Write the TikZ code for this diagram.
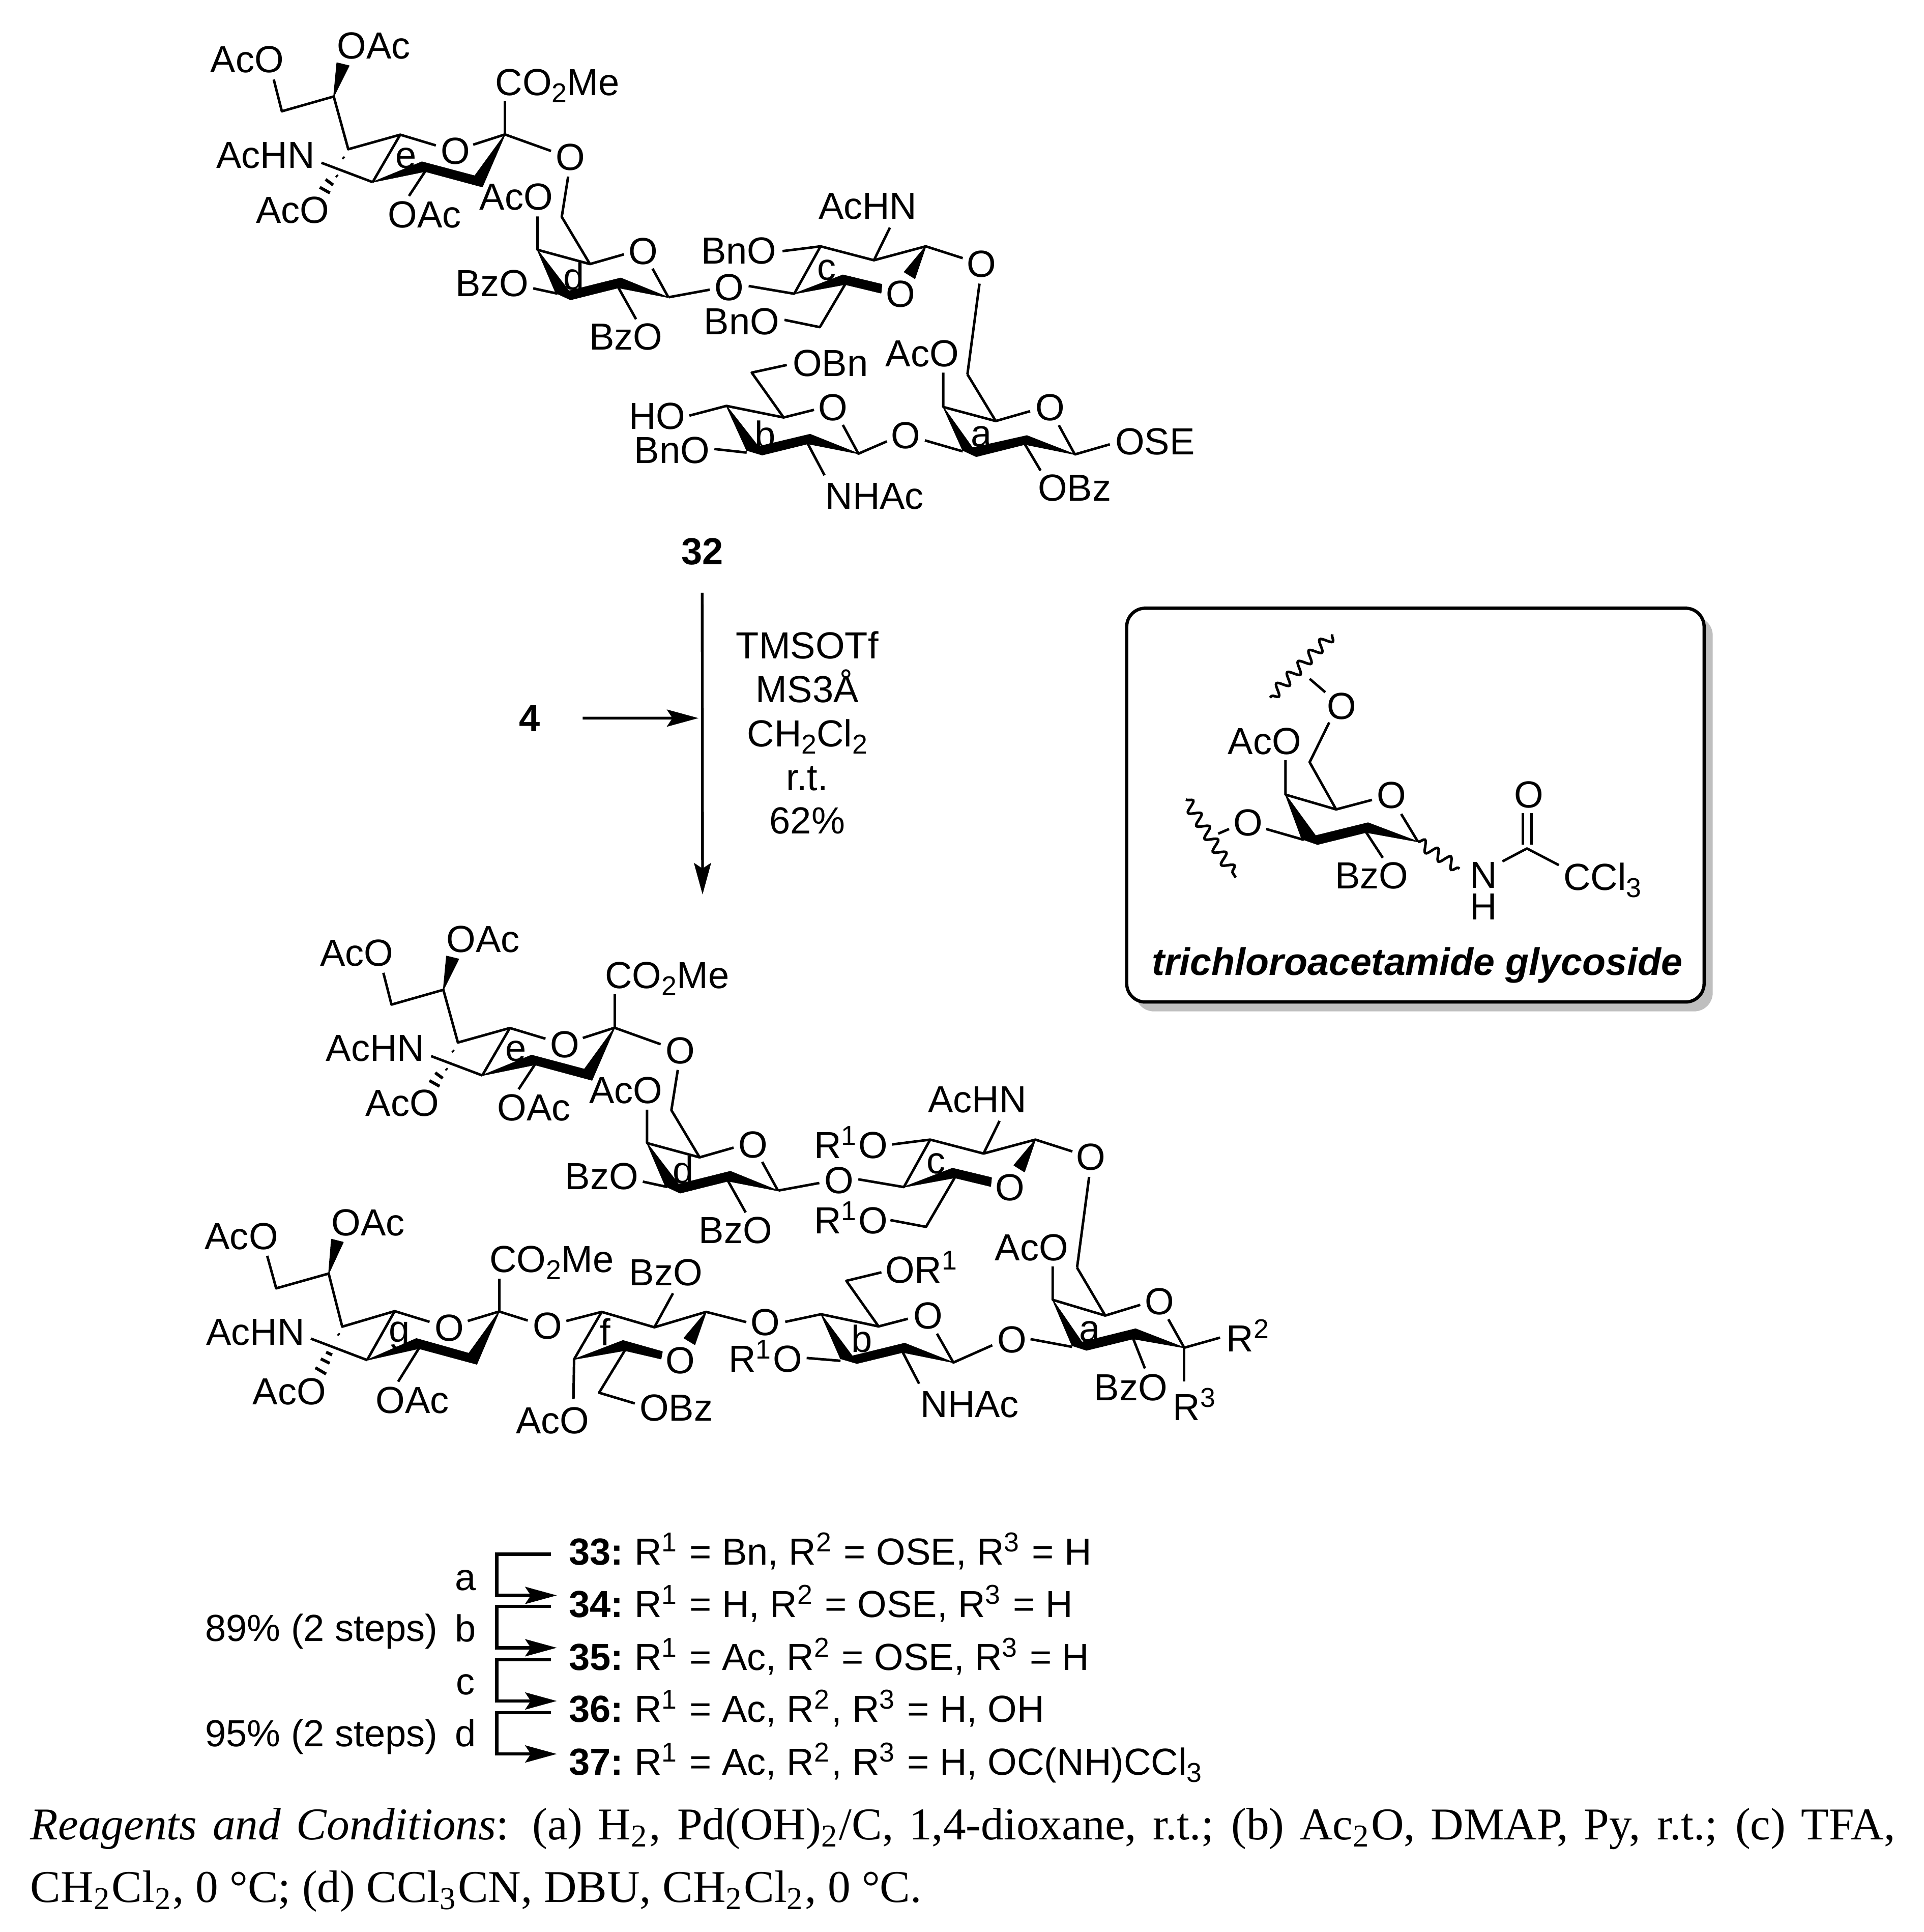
\documentclass[tikz,border=0pt]{standalone}
\usepackage{fontspec}
\setmainfont{Liberation Sans}
\newfontfamily\notefont{Liberation Serif}
\usetikzlibrary{arrows.meta,decorations.pathmorphing}

\newcommand{\supr}[1]{\raisebox{.35em}{\fontsize{6.3}{7}\selectfont #1}\kern.47pt\relax}
\newcommand{\subr}[1]{\raisebox{-.19em}{\fontsize{6.3}{7}\selectfont #1}}
\newcommand{\cmpdno}[1]{\textbf{#1:}\hspace{-.6pt} }

\tikzset{
  atom/.style={inner sep=0pt,anchor=base,yshift=-0.11cm,font=\fontsize{8.7}{10}\selectfont},
  cmpdline/.style={atom,anchor=base west},
  noteline/.style={inner sep=0pt,anchor=base west,font=\notefont\fontsize{10.5}{12}\selectfont},
  bond/.style={line width=.58pt,line join=round},
  solidbond/.style={fill=black,draw=black,line width=.2pt,line join=round},
  hashbond/.style={line width=.7pt},
  wavybond/.style={line width=.6pt,decorate,decoration={snake,amplitude=.045cm,segment length=.125cm}},
  rxnline/.style={line width=.63pt,-{Stealth[length=.256cm,width=.138cm,inset=.045cm]}},
  stepline/.style={line width=.75pt,-{Stealth[length=.256cm,width=.138cm,inset=.045cm]}}
}

% sialic acid, galactose and glucosamine units shared by both compounds
\newcommand{\upperchain}[1]{
  \draw[bond] (222.2,64.5) -- (228.8,90.3) -- (270.9,78.3) -- (282.7,121.1) -- (324.9,109.3) -- (353.8,118);
  \draw[bond] (384.1,117.4) -- (409.9,109.1) -- (447.3,122.5);
  \draw[bond] (409.9,82) -- (409.9,109.1);
  \draw[bond] (302.5,147.8) -- (324.9,109.3);
  \draw[bond] (260.9,132.1) -- (302.5,147.8);
  \draw[bond] (345.1,139.1) -- (332,159);
  \fill[solidbond] (270.9,78.3) -- (273.5,51) -- (283.3,53.4) -- cycle;
  \fill[solidbond] (409.9,109.1) -- (385.4,142.8) -- (391.5,151.6) -- cycle;
  \fill[solidbond] (302.5,147.8) -- (342.5,131.4) -- (385.4,142.8) -- (391.5,151.6) -- (345.1,139.1) -- cycle;
  \draw[hashbond] (278.3,127.6) -- (279.3,128.6) (273,142.3) -- (274,143.3) (264.3,145.6) -- (270.4,150.1) (259.6,152) -- (267.8,156.6);
  \node[atom] (#1ace) at (200.6,47.9) {AcO};
  \node[atom] (#1oace) at (303.3,36.8) {OAc};
  \node[atom] (#1methyl) at (452.5,66.3) {CO\subr{2}Me};
  \node[atom] (#1oe) at (369.6,122.2) {O};
  \node[atom] (#1e) at (329.6,125.3) {e};
  \node[atom] (#1nhe) at (215.6,125.3) {AcHN};
  \node[atom] (#1acf) at (237.5,170) {AcO};
  \node[atom] (#1oacg) at (344.6,173.6) {OAc};
  \node[atom] (#1link) at (463.1,127.1) {O};
  % galactose d
  \draw[bond] (461.2,143.3) -- (456,176) -- (478.9,214.3) -- (506.5,206.4);
  \draw[bond] (436.2,175.6) -- (436.2,202.7) -- (478.9,214.3);
  \draw[bond] (432.8,234) -- (452.6,238.3);
  \draw[bond] (542.6,241.4) -- (529.7,218);
  \draw[bond] (502,233.5) -- (516.3,259);
  \fill[solidbond] (436.2,202.7) -- (451.2,237.7) -- (461.8,236.2) -- cycle;
  \fill[solidbond] (451.2,237.7) -- (463.1,243.2) -- (502,233.5) -- (542.6,241.4) -- (503.9,225.7) -- (461.8,236.2) -- cycle;
  \node[atom] (#1acd) at (419,159.4) {AcO};
  \node[atom] (#1bzd) at (399.4,229.4) {BzO};
  \node[atom] (#1bzdd) at (508,273) {BzO};
  \node[atom] (#1od) at (522.3,203.6) {O};
  \node[atom] (#1d) at (465.7,224.3) {d};
  % glucosamine c
  \draw[bond] (542.9,241.2) -- (576.1,235.1);
  \draw[bond] (607.7,232.1) -- (644.7,238.4) -- (666.1,199.9) -- (709.4,211.2) -- (751.5,199.9) -- (781.5,209.5);
  \draw[bond] (635.2,203.8) -- (666.1,199.9);
  \draw[bond] (722.4,184.7) -- (709.4,211.2);
  \draw[bond] (795.1,230.2) -- (785.3,303.8);
  \fill[solidbond] (751.5,199.9) -- (734.1,220.7) -- (742.6,226) -- cycle;
  \fill[solidbond] (644.7,238.4) -- (684.2,223.2) -- (715.8,230.8) -- (715.1,237.8) -- (686,230.8) -- cycle;
  \node[atom] (#1oc) at (730.9,238.4) {O};
  \node[atom] (#1linkd) at (591.9,232.7) {O};
  \node[atom] (#1c) at (670.9,216.5) {c};
  \node[atom] (#1nhc) at (704.4,166.9) {AcHN};
  \node[atom] (#1linkc) at (796.6,213.7) {O};
}

\begin{document}
\begin{tikzpicture}[x=.01cm,y=-.01cm]
  \useasboundingbox (0,0) rectangle (1561.4,1568);

  % compound 32
  \upperchain{t}
  \draw[bond] (686,230.8) -- (665.5,265.5) -- (636.8,259.6);
  \node[atom] (bnoup) at (599.8,203.3) {BnO};
  \node[atom] (bnodn) at (602,260.5) {BnO};
  % ring a
  \draw[bond] (785.3,303.8) -- (808.3,341.7) -- (836.2,333.7);
  \draw[bond] (765.7,302.4) -- (765.7,330.3) -- (808.3,341.7);
  \draw[bond] (859.5,345.1) -- (872.5,368.8) -- (900.9,360.6);
  \draw[bond] (832,360.6) -- (844.7,381.9);
  \draw[bond] (750.8,357.4) -- (781.5,366.3);
  \fill[solidbond] (765.7,330.3) -- (781.5,365.4) -- (789.4,363.5) -- cycle;
  \fill[solidbond] (781.5,365.4) -- (792.5,370.5) -- (832,360.6) -- (872.5,368.8) -- (833.6,353.6) -- (789.4,363.5) -- cycle;
  \node[atom] (aco32) at (748.6,286.7) {AcO};
  \node[atom] (oa32) at (852.6,330.3) {O};
  \node[atom] (ose32) at (937.6,357.8) {OSE};
  \node[atom] (obz32) at (872.2,395.7) {OBz};
  \node[atom] (a32) at (796.6,351.2) {a};
  \node[atom] (link32) at (735,353.1) {O};
  % ring b
  \draw[bond] (719.9,358.2) -- (696.8,368.2) -- (684.2,344.9);
  \draw[bond] (660.8,332.6) -- (636.1,338.8) -- (589.7,329.4) -- (559.6,337.3);
  \draw[bond] (636.1,338.8) -- (610.2,302.4) -- (638.7,296.2);
  \draw[bond] (579.9,364.4) -- (606.1,367.3);
  \draw[bond] (655.7,360.1) -- (669.3,385.7);
  \fill[solidbond] (589.7,329.4) -- (606.1,365.4) -- (615.6,362.5) -- cycle;
  \fill[solidbond] (606.1,365.4) -- (618.7,369.2) -- (655.7,360.1) -- (696.8,368.2) -- (657.6,352.5) -- (615.6,362.5) -- cycle;
  \node[atom] (ob32) at (676.3,330.3) {O};
  \node[atom] (obn32) at (674,294.3) {OBn};
  \node[atom] (ho32) at (533.4,337.5) {HO};
  \node[atom] (bno32) at (545.4,364.8) {BnO};
  \node[atom] (nhac32) at (710,402) {NHAc};
  \node[atom] (b32) at (621.3,352.5) {b};
  \node[atom] (cmpd32) at (570,447) {\textbf{32}};

  % reaction
  \coordinate (prodtop) at (570.3,726);
  \coordinate (rxnjoin) at (567,582.8);
  \node[atom] (cmpd4) at (430,582.8) {\textbf{4}};
  \draw[rxnline] ([yshift=-.22cm]cmpd32.south) -- (prodtop);
  \draw[rxnline] ([xshift=.43cm]cmpd4.base) ++(0,-11) -- (rxnjoin);
  \node[atom] (tmsotf) at (655.3,523.4) {TMSOTf};
  \node[atom] (ms) at (655.3,559) {MS3Å};
  \node[atom] (dcm) at (655.3,594.8) {CH\subr{2}Cl\subr{2}};
  \node[atom] (rt) at (655.3,630.3) {r.t.};
  \node[atom] (yield) at (655.3,665.8) {62\%};

  % inset
  \fill[black!25,rounded corners=.15cm] (921.6,500.6) rectangle (1390.3,820.8);
  \draw[line width=.75pt,fill=white,rounded corners=.15cm] (914.6,493.6) rectangle (1383.3,813.2);
  \draw[wavybond] (1081.5,514.8) -- (1030.9,566.2);
  \draw[wavybond] (962.7,648.8) -- (1003.1,712.2);
  \draw[wavybond] (1151,683.1) -- (1184.8,705);
  \draw[bond] (1063.1,550.9) -- (1075.8,561.8);
  \draw[bond] (1079,586.3) -- (1063.1,618.6) -- (1084.6,656.9) -- (1113.7,649.2);
  \draw[bond] (1043.5,616.9) -- (1043.5,644.9) -- (1084.6,656.9);
  \draw[bond] (1137.4,660.6) -- (1151,683.1);
  \draw[bond] (1109,675.5) -- (1122.5,696.2);
  \draw[bond] (1027.8,672.8) -- (1058.4,681.6);
  \draw[bond] (988.9,676.6) -- (997.7,672.8);
  \draw[bond] (1219.6,699.1) -- (1239.5,688.6) -- (1265.4,702.1);
  \draw[bond] (1236,685.3) -- (1236,659.7) (1243.3,685.3) -- (1243.3,659.7);
  \fill[solidbond] (1043.5,644.9) -- (1056.8,680.9) -- (1067.9,678.3) -- cycle;
  \fill[solidbond] (1056.8,680.9) -- (1069.5,685.3) -- (1109,675.5) -- (1151,683.1) -- (1110.5,667.8) -- (1067.9,678.3) -- cycle;
  \node[atom] (olink) at (1089,572.7) {O};
  \node[atom] (acobox) at (1026.5,601.1) {AcO};
  \node[atom] (obox) at (1129.5,644.9) {O};
  \node[atom] (oglyc) at (1013.2,667.2) {O};
  \node[atom] (bzobox) at (1113.4,710.4) {BzO};
  \node[atom] (nbox) at (1204.4,709.9) {N};
  \node[atom] (hbox) at (1204.4,735.2) {H};
  \node[atom] (ocarb) at (1241,644.4) {O};
  \node[atom] (ccl) at (1300.8,711.5) {CCl\subr{3}};
  \node[atom,font=\fontsize{8.85}{11}\selectfont\bfseries\itshape] (boxname) at (1150.5,780.4) {trichloroacetamide glycoside};

  % product
  \begin{scope}[shift={(89,725)}]
    \upperchain{p}
  \end{scope}
  \draw[bond] (775,955.8) -- (751.7,995.7) -- (722.8,990.2);
  \node[atom] (rup) at (690.7,929) {R\supr{1}O};
  \node[atom] (rdn) at (690.7,990.2) {R\supr{1}O};
  % ring g
  \draw[bond] (216.9,1019.2) -- (224.2,1045.6) -- (266.8,1033.6) -- (277.8,1076.7) -- (320.4,1064.1) -- (348.7,1072.8);
  \draw[bond] (379.7,1072.1) -- (405.2,1064.4) -- (428.4,1071.7);
  \draw[bond] (405.2,1037.6) -- (405.2,1064.4);
  \draw[bond] (298,1103.8) -- (320.4,1064.1);
  \draw[bond] (298,1103.8) -- (252.3,1086.4);
  \draw[bond] (340,1094.4) -- (323.2,1121.3);
  \fill[solidbond] (266.8,1033.6) -- (269.1,1005.8) -- (278.6,1008.2) -- cycle;
  \fill[solidbond] (405.2,1064.4) -- (380.6,1098.4) -- (387,1107.1) -- cycle;
  \fill[solidbond] (298,1103.8) -- (338,1086.4) -- (380.6,1098.4) -- (387,1107.1) -- (340,1094.4) -- cycle;
  \draw[hashbond] (274.4,1082.5) -- (275.4,1083.5) (264.7,1097.4) -- (269.6,1099.6) (260.4,1102.8) -- (267.6,1106.4) (256,1110) -- (264.7,1115.1);
  \node[atom] (acog) at (196,1002.9) {AcO};
  \node[atom] (oacg) at (298.9,992) {OAc};
  \node[atom] (esterg) at (447.8,1021.7) {CO\subr{2}Me};
  \node[atom] (og) at (364.7,1077.2) {O};
  \node[atom] (nhg) at (207.4,1080.6) {AcHN};
  \node[atom] (acogg) at (234.9,1128.9) {AcO};
  \node[atom] (oacgg) at (334.8,1136.1) {OAc};
  \node[atom] (g) at (324.1,1078) {g};
  \node[atom] (linkg) at (444.3,1075.6) {O};
  % ring f
  \draw[bond] (459.7,1072.1) -- (488.4,1064.7) -- (531.2,1077.2) -- (573.2,1064.7) -- (605.8,1073);
  \draw[bond] (488.4,1064.7) -- (466,1103.2) -- (465.5,1135.4);
  \draw[bond] (531.2,1077.2) -- (546.3,1049.6);
  \draw[bond] (507.2,1096) -- (486.3,1130.3) -- (515.3,1139);
  \fill[solidbond] (573.2,1064.7) -- (555.3,1085.9) -- (564,1091.2) -- cycle;
  \fill[solidbond] (466,1103.2) -- (505.7,1088) -- (537.6,1097) -- (536.5,1102.8) -- (507.2,1096) -- cycle;
  \node[atom] (f) at (491.5,1081) {f};
  \node[atom] (bzof) at (540.5,1032.3) {BzO};
  \node[atom] (of) at (552.4,1103.8) {O};
  \node[atom] (obzf) at (548.9,1142.3) {OBz};
  \node[atom] (acof) at (448.7,1152.5) {AcO};
  \node[atom] (linkf) at (621.3,1072.8) {O};
  % ring b
  \draw[bond] (637.4,1072.8) -- (666.5,1066.6) -- (713.2,1076.5) -- (737,1070.3);
  \draw[bond] (713.2,1076.5) -- (687,1039.5) -- (715.5,1032.6);
  \draw[bond] (760.6,1082.4) -- (773.9,1105.8) -- (805.5,1091.8);
  \draw[bond] (654.8,1102.1) -- (682.3,1104.4);
  \draw[bond] (732.8,1097.5) -- (746.1,1123);
  \fill[solidbond] (666.5,1066.6) -- (682.3,1102.6) -- (691.8,1100.6) -- cycle;
  \fill[solidbond] (682.3,1102.6) -- (695.6,1106.5) -- (732.8,1097.5) -- (773.9,1105.8) -- (734.4,1090.2) -- (691.8,1100.6) -- cycle;
  \node[atom] (ob) at (753.4,1067.5) {O};
  \node[atom] (orb) at (748.6,1030.1) {OR\supr{1}};
  \node[atom] (rob) at (621.3,1102.4) {R\supr{1}O};
  \node[atom] (b) at (699.7,1086.5) {b};
  \node[atom] (nhb) at (787.2,1139.2) {NHAc};
  \node[atom] (linkb) at (821.3,1086.8) {O};
  % ring a
  \draw[bond] (874.3,1028.8) -- (897.2,1067.7) -- (925.6,1059);
  \draw[bond] (854.5,1027.8) -- (854.5,1054.9) -- (897.2,1067.7);
  \draw[bond] (948.4,1070.7) -- (961.3,1093.8) -- (990.4,1085.6);
  \draw[bond] (961.3,1093.8) -- (961.3,1121);
  \draw[bond] (836.5,1086.8) -- (870.3,1093.1);
  \draw[bond] (919.9,1086.5) -- (929.4,1110.6);
  \fill[solidbond] (854.5,1054.9) -- (870.3,1092) -- (878.2,1089.3) -- cycle;
  \fill[solidbond] (870.3,1092) -- (882,1095.8) -- (919.9,1086.5) -- (961.3,1093.8) -- (921.8,1078.5) -- (878.2,1089.3) -- cycle;
  \node[atom] (acoa) at (837.4,1012.2) {AcO};
  \node[atom] (oa) at (941.4,1056) {O};
  \node[atom] (a) at (884.5,1077.6) {a};
  \node[atom] (rtwo) at (1013.5,1085.8) {R\supr{2}};
  \node[atom] (rthree) at (970.2,1141.6) {R\supr{3}};
  \node[atom] (bzoa) at (918,1125.7) {BzO};

  % steps
  \coordinate (sa) at (447.3,1261.4);
  \coordinate (ea) at (452,1294.8);
  \coordinate (sb) at (447.3,1303.8);
  \coordinate (eb) at (452,1337.3);
  \coordinate (sc) at (447.3,1347.1);
  \coordinate (ec) at (452,1380.5);
  \coordinate (sd) at (447.3,1389.9);
  \coordinate (ed) at (452,1423.5);
  \draw[stepline] (sa) -- (403.3,1261.4) |- (ea);
  \draw[stepline] (sb) -- (403.3,1303.8) |- (eb);
  \draw[stepline] (sc) -- (403.3,1347.1) |- (ec);
  \draw[stepline] (sd) -- (403.3,1389.9) |- (ed);
  \node[atom] (stepa) at (378,1279.8) {a};
  \node[atom] (stepb) at (378,1321.5) {b};
  \node[atom] (stepc) at (378,1364.5) {c};
  \node[atom] (stepd) at (378,1406.5) {d};
  \node[atom] (yieldab) at (261,1321) {89\% (2 steps)};
  \node[atom] (yieldcd) at (261,1406.5) {95\% (2 steps)};
  \node[cmpdline] (cmpd33) at (461,1259) {\cmpdno{33}R\supr{1} = Bn, R\supr{2} = OSE, R\supr{3} = H};
  \node[cmpdline] (cmpd34) at (461,1301.4) {\cmpdno{34}R\supr{1} = H, R\supr{2} = OSE, R\supr{3} = H};
  \node[cmpdline] (cmpd35) at (461,1344.3) {\cmpdno{35}R\supr{1} = Ac, R\supr{2} = OSE, R\supr{3} = H};
  \node[cmpdline] (cmpd36) at (461,1386.5) {\cmpdno{36}R\supr{1} = Ac, R\supr{2}, R\supr{3} = H, OH};
  \node[cmpdline] (cmpd37) at (461,1429.5) {\cmpdno{37}R\supr{1} = Ac, R\supr{2}, R\supr{3} = H, OC(NH)CCl\subr{3}};

  % conditions
  \node[noteline] (condone) at (24,1493) {\makebox[15.13cm][s]{\textit{Reagents and Conditions}: (a) H\textsubscript{2}, Pd(OH)\textsubscript{2}/C, 1,4-dioxane, r.t.; (b) Ac\textsubscript{2}O, DMAP, Py, r.t.; (c) TFA,}};
  \node[noteline] (condtwo) at (24,1544) {CH\textsubscript{2}Cl\textsubscript{2}, 0 °C; (d) CCl\textsubscript{3}CN, DBU, CH\textsubscript{2}Cl\textsubscript{2}, 0 °C.};
\end{tikzpicture}
\end{document}
